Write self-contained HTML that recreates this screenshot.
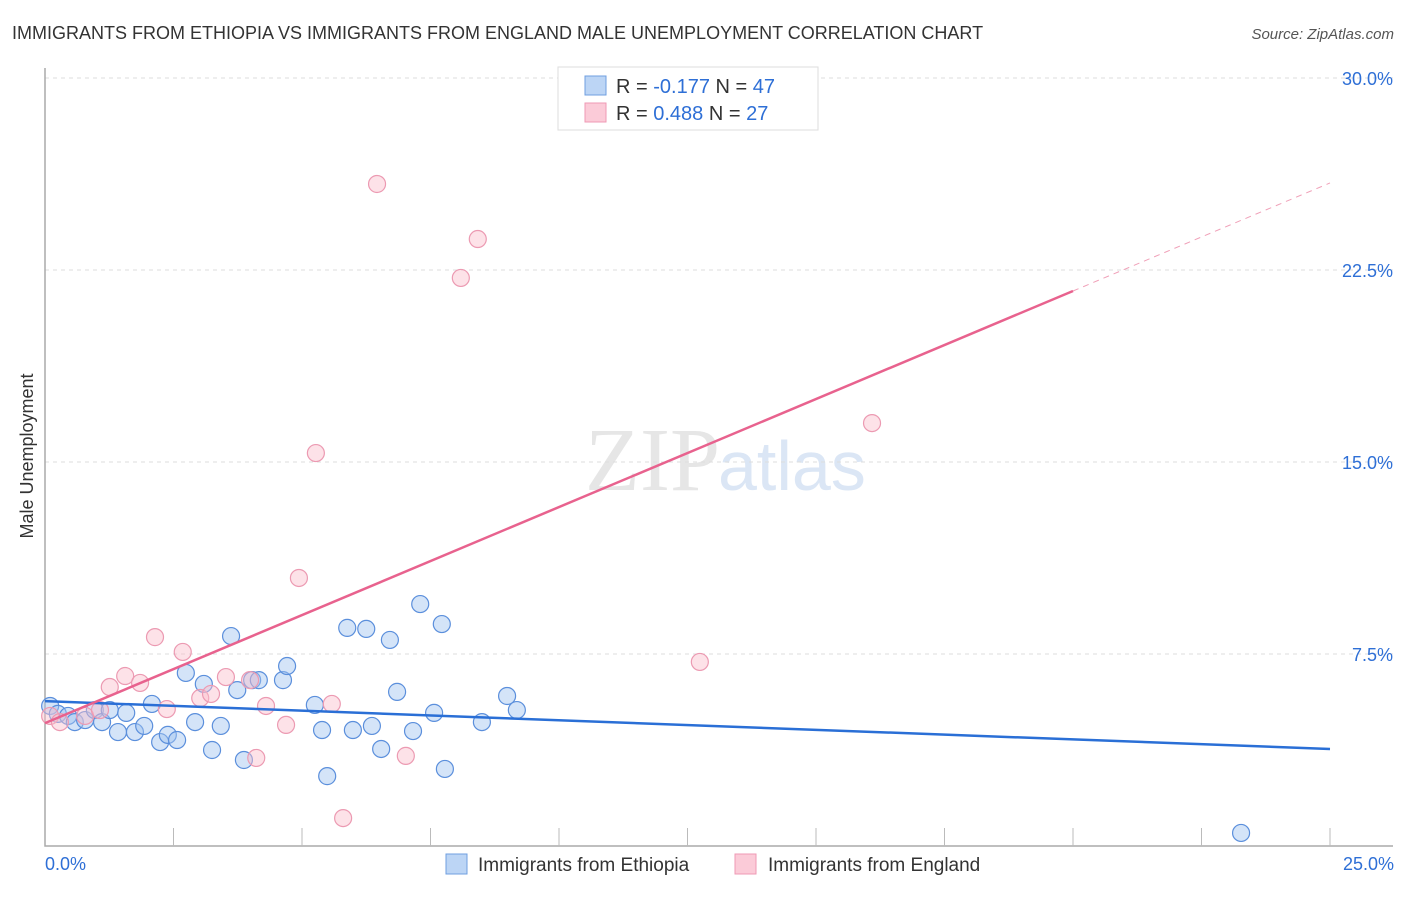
<!DOCTYPE html>
<html><head><meta charset="utf-8"><style>
body{margin:0;background:#fff;font-family:"Liberation Sans",sans-serif}
</style></head><body>
<svg width="1406" height="892" xmlns="http://www.w3.org/2000/svg" font-family="Liberation Sans, sans-serif">
<text x="12" y="39" font-size="18" fill="#333">IMMIGRANTS FROM ETHIOPIA VS IMMIGRANTS FROM ENGLAND MALE UNEMPLOYMENT CORRELATION CHART</text>
<text x="1394" y="39" font-size="15" fill="#555" text-anchor="end" font-style="italic">Source: ZipAtlas.com</text>
<text x="720" y="490" font-size="90" fill="#e6e6e6" text-anchor="end" font-family="Liberation Serif, serif">ZIP</text>
<text x="718" y="490" font-size="70" fill="#dbe6f5">atlas</text>
<text transform="translate(33,456) rotate(-90)" font-size="18" fill="#333" text-anchor="middle">Male Unemployment</text>
<g id="grid"></g><g id="axes"></g><g id="marks"></g>
<g>
<rect x="558" y="67" width="260" height="63" fill="#fff" stroke="#ddd"/>
<rect x="585" y="76" width="21" height="19" fill="#bcd5f5" stroke="#6f9fe0"/>
<rect x="585" y="103" width="21" height="19" fill="#fbcbd8" stroke="#ef9ab4"/>
<text x="616" y="93" font-size="20" fill="#333">R = <tspan fill="#2e6fd6">-0.177</tspan>   N = <tspan fill="#2e6fd6">47</tspan></text>
<text x="616" y="120" font-size="20" fill="#333">R =  <tspan fill="#2e6fd6">0.488</tspan>   N = <tspan fill="#2e6fd6">27</tspan></text>
</g>
<g>
<rect x="446" y="854" width="21" height="20" fill="#bcd5f5" stroke="#6f9fe0"/>
<text x="478" y="871" font-size="19" fill="#333">Immigrants from Ethiopia</text>
<rect x="735" y="854" width="21" height="20" fill="#fbcbd8" stroke="#ef9ab4"/>
<text x="768" y="871" font-size="19" fill="#333">Immigrants from England</text>
</g>
<text x="45" y="870" font-size="18" fill="#2e6fd6">0.0%</text>
<text x="1394" y="870" font-size="18" fill="#2e6fd6" text-anchor="end">25.0%</text>
</svg>
<script>
const yTicks=[7.5,15,22.5,30];
const yTickLabels=["7.5%","15.0%","22.5%","30.0%"];
const blueX=[0.10,0.25,0.45,0.58,0.78,0.97,1.11,1.26,1.42,1.58,1.75,1.93,2.08,2.24,2.39,2.57,2.74,2.92,3.09,3.25,3.42,3.62,3.74,3.87,4.03,4.16,4.63,4.71,5.25,5.39,5.49,5.88,5.99,6.25,6.36,6.54,6.71,6.85,7.16,7.30,7.57,7.72,7.78,8.50,8.99,9.18,23.27];
const blueY=[5.47,5.16,5.08,4.84,4.92,5.31,4.84,5.31,4.45,5.20,4.45,4.69,5.55,4.06,4.34,4.14,6.76,4.84,6.33,3.75,4.69,8.20,6.09,3.36,6.48,6.48,6.48,7.03,5.51,4.53,2.73,8.52,4.53,8.48,4.69,3.79,8.05,6.02,4.49,9.45,5.20,8.67,3.01,4.84,5.86,5.31,0.51];
const pinkX=[0.10,0.29,0.78,1.07,1.26,1.56,1.85,2.14,2.37,2.68,3.02,3.23,3.52,3.99,4.30,4.11,4.69,4.94,5.27,5.58,5.80,6.46,7.02,8.09,8.42,12.74,16.09];
const pinkY=[5.08,4.84,5.08,5.31,6.21,6.64,6.37,8.16,5.35,7.58,5.78,5.94,6.60,6.48,5.47,3.44,4.73,10.47,15.35,5.55,1.09,25.86,3.52,22.19,23.71,7.19,16.52];
const blueTrend=[5.66,3.79];
const pinkTrend=[4.8,25.9];
const pinkSolidEnd=20;
const NS="http://www.w3.org/2000/svg";
const X=v=>45+v*(1285/25), Y=v=>846-v*(768/30);
function mk(tag,attrs,parent){const e=document.createElementNS(NS,tag);for(const k in attrs)e.setAttribute(k,attrs[k]);document.getElementById(parent).appendChild(e);return e;}
yTicks.forEach((t,i)=>{
 const g=mk('line',{x1:45,x2:1393,y1:Y(t),y2:Y(t),stroke:'#ddd','stroke-dasharray':'4,4'},'grid');
 
 
 const l=mk('text',{x:1393,y:Y(t)+7,'font-size':18,fill:'#2e6fd6','text-anchor':'end'},'grid');
 l.textContent=yTickLabels[i];
 
 
});
const ax=mk('path',{d:'M45,68V846H1393',fill:'none',stroke:'#aaa','stroke-width':1.5},'axes');


for(let i=1;i<=10;i++){const t=mk('line',{x1:X(i*2.5),x2:X(i*2.5),y1:828,y2:846,stroke:'#bbb'},'axes');
 
 }
blueX.forEach((x,i)=>{const c=mk('circle',{cx:X(x),cy:Y(blueY[i]),r:8.5,fill:'rgba(160,195,240,0.45)',stroke:'#5b8fdc','stroke-width':1.2},'marks');
 
 });
pinkX.forEach((x,i)=>{const c=mk('circle',{cx:X(x),cy:Y(pinkY[i]),r:8.5,fill:'rgba(250,190,205,0.45)',stroke:'#ec9ab2','stroke-width':1.2},'marks');
 
 });
const bl=mk('line',{x1:X(0),y1:Y(blueTrend[0]),x2:X(25),y2:Y(blueTrend[1]),stroke:'#2a6fd6','stroke-width':2.5},'marks');


const pv=x=>pinkTrend[0]+(pinkTrend[1]-pinkTrend[0])*x/25;
const pl=mk('line',{x1:X(0),y1:Y(pv(0)),x2:X(pinkSolidEnd),y2:Y(pv(pinkSolidEnd)),stroke:'#e8628e','stroke-width':2.5},'marks');


const pd=mk('line',{x1:X(pinkSolidEnd),y1:Y(pv(pinkSolidEnd)),x2:X(25),y2:Y(pv(25)),stroke:'#f0a0b8','stroke-width':1,'stroke-dasharray':'6,5'},'marks');


</script>
</body></html>
